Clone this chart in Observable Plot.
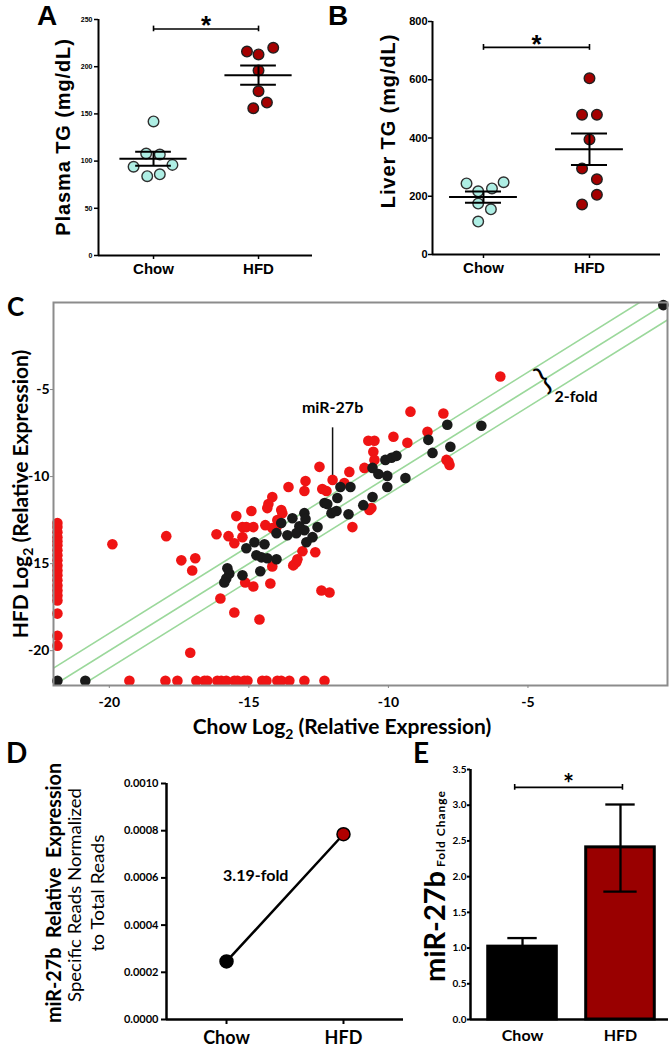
<!DOCTYPE html>
<html>
<head>
<meta charset="utf-8">
<script src="https://cdn.jsdelivr.net/npm/d3@7"></script>
<script src="https://cdn.jsdelivr.net/npm/@observablehq/plot@0.6"></script>
<style>
html,body{margin:0;padding:0;background:#fff;}
#fig{position:relative;width:671px;height:1050px;overflow:hidden;background:#fff;}
#fig > svg{position:absolute;}
</style>
</head>
<body>
<div id="fig"></div>
<script>
// ================= DATA =================
const groups = ["Chow", "HFD"];

// A: plasma TG (mg/dL), one value per animal
const plasmaChow = [142, 108, 107, 94, 96, 84, 86];
const plasmaHFD  = [216, 213, 220, 196, 174, 162, 156];
const plasmaChowSpread = [0, -0.07, 0.06, -0.19, 0.18, -0.06, 0.06];
const plasmaHFDSpread  = [-0.11, 0, 0.14, 0, 0, 0.08, -0.05];
const plasmaTicks = [0, 50, 100, 150, 200, 250];
const plasmaSig = 240;

// B: liver TG (mg/dL)
const liverChow = [244, 248, 217, 227, 175, 155, 113];
const liverHFD  = [605, 480, 480, 395, 295, 258, 205, 172];
const liverChowSpread = [-0.16, 0.19, -0.05, 0.08, -0.05, 0.07, -0.05];
const liverHFDSpread  = [0, -0.07, 0.07, 0, -0.07, 0.07, 0.07, -0.07];
const liverTicks = [0, 200, 400, 600, 800];
const liverSig = 711;

// C: log2 relative expression, [Chow, HFD]
const changedMiRs = [
  [-5.99,-4.25],[-9.21,-6.27],[-8.03,-6.38],[-8.60,-7.42],[-9.32,-8.06],[-9.82,-7.71],
  [-10.72,-7.94],[-10.50,-7.94],[-10.54,-8.58],[-10.50,-9.04],[-7.92,-9.04],[-7.81,-9.33],
  [-7.85,-9.15],[-10.86,-9.50],[-11.40,-9.73],[-12.47,-9.44],[-12.00,-10.19],[-12.97,-10.25],
  [-13.01,-10.83],[-12.37,-10.71],[-12.22,-10.83],[-11.58,-10.37],[-13.58,-10.60],[-14.16,-11.17],
  [-14.30,-11.58],[-14.34,-11.81],[-14.91,-11.98],[-13.84,-11.92],[-13.80,-12.10],[-15.45,-12.27],
  [-14.41,-12.79],[-15.23,-12.90],[-15.09,-12.90],[-14.84,-12.90],[-13.98,-12.50],[-14.01,-12.90],
  [-14.16,-12.96],[-16.16,-13.31],[-15.73,-13.42],[-17.96,-13.42],[-15.23,-13.48],[-10.68,-11.92],
  [-10.61,-11.81],[-11.29,-12.90],[-19.89,-13.89],[-15.52,-13.83],[-17.42,-14.81],[-16.92,-14.69],
  [-17.03,-15.39],[-14.16,-15.16],[-15.13,-16.08],[-14.84,-16.31],[-14.23,-16.14],[-16.02,-17.00],
  [-15.52,-17.81],[-14.62,-18.21],[-17.10,-20.12],[-13.08,-14.29],[-12.62,-14.35],[-13.30,-14.92],
  [-13.41,-15.10],[-13.26,-14.75],[-12.40,-16.54],[-12.11,-16.66]
];
const floorChow = -21.86;
const floorHFD = -21.73;
// detected only in HFD (Chow at floor): HFD values
const onlyHFD = [-12.67,-12.90,-13.19,-13.48,-13.71,-13.94,-14.23,-14.52,-14.81,-15.10,
  -15.39,-15.67,-15.96,-16.25,-16.54,-16.83,-17.12,-17.87,-19.14,-19.71];
// detected only in Chow (HFD at floor): Chow values
const onlyChow = [-19.28,-17.99,-17.56,-16.88,-16.59,-16.49,-16.13,-15.99,-15.81,-15.52,
  -15.41,-15.16,-15.05,-14.52,-14.37,-13.98,-13.84,-13.55,-13.01,-12.29];
const unchangedMiRs = [
  [-0.15,-0.15],[-6.67,-7.08],[-7.89,-7.02],[-8.57,-7.89],[-7.78,-8.29],[-8.42,-8.64],
  [-10.11,-9.04],[-9.89,-8.92],[-9.71,-8.81],[-10.57,-9.50],[-10.36,-9.85],[-10.04,-9.96],
  [-9.39,-10.08],[-10.04,-10.60],[-11.72,-10.60],[-11.36,-10.60],[-11.83,-11.23],[-12.29,-11.52],
  [-12.19,-11.58],[-12.04,-12.10],[-11.86,-11.98],[-11.43,-12.16],[-10.90,-11.64],[-10.57,-11.17],
  [-13.01,-12.10],[-12.97,-12.44],[-12.54,-12.90],[-13.44,-12.39],[-13.19,-12.85],[-13.62,-13.37],
  [-14.01,-13.25],[-12.72,-13.48],[-13.30,-13.25],[-13.01,-13.08],[-12.94,-13.77],[-13.84,-12.67],
  [-14.80,-13.77],[-14.44,-13.89],[-15.09,-14.12],[-14.73,-14.52],[-14.55,-14.64],[-14.34,-14.69],
  [-14.01,-14.75],[-14.59,-15.44],[-15.23,-15.67],[-15.77,-15.27],[-15.70,-15.56],[-15.81,-15.85],
  [-15.88,-16.08],[-21.86,-21.73],[-20.86,-21.73]
];
const foldLineOffsets = [1, 0, -1];       // log2: ±1 = 2-fold
const cDomain = [-22, 0];
const cTicks = [-20, -15, -10, -5];
const mirAnnot = [{chow: -12.0, hfd: -6.04, top: -7.2, bottom: -9.93, text: "miR-27b"}];
const foldAnnot = [{chow: -4.05, hfd: -5.4, text: "2-fold", braceChow: -4.45, braceHFD: -4.45}];

// D: specific reads normalized to total reads
const readsNorm = [0.000246, 0.000785];
const readsTicks = [0, 0.0002, 0.0004, 0.0006, 0.0008, 0.0010];
const readsLabelPos = [{x: 1.25, y: 0.00061}];

// E: qPCR fold change (mean, error bar ends)
const foldMean = [1.02, 2.41];
const foldErrHigh = [1.14, 3.01];
const foldErrLow = [1.02, 1.79];
const foldTicks = [0, 0.5, 1.0, 1.5, 2.0, 2.5, 3.0, 3.5];
const foldSig = 3.25;

// ================= DRAWING =================
const fig = document.getElementById("fig");
function place(svg, left, top) {
  svg.style.left = left + "px";
  svg.style.top = top + "px";
  fig.appendChild(svg);
}
const ARIAL = "'Liberation Sans', Arial, sans-serif";
const LATO = "Lato, 'Open Sans', sans-serif";

function dotPanel(o) {
  const pts = [
    ...o.chow.map((v, i) => ({g: 0, x: 1 + o.chowSpread[i], v})),
    ...o.hfd.map((v, i) => ({g: 1, x: 2 + o.hfdSpread[i], v}))
  ];
  const stats = [o.chow, o.hfd].map((a, i) => {
    const m = d3.mean(a), s = d3.deviation(a) / Math.sqrt(a.length);
    return {x: i + 1, m, lo: m - s, hi: m + s};
  });
  return Plot.plot({
    width: o.width, height: o.height,
    marginLeft: o.ml, marginRight: o.mr, marginTop: o.mt, marginBottom: o.mb,
    style: {background: "transparent", fontFamily: ARIAL, overflow: "visible"},
    x: {type: "linear", domain: o.xDomain},
    y: {type: "linear", domain: [o.ticks[0], o.ticks[o.ticks.length - 1]]},
    marks: [
      Plot.axisY({ticks: o.ticks, tickSize: 4, tickPadding: o.tickPad, fontSize: o.tickFont, fontWeight: "bold", label: null, strokeWidth: 1.5}),
      Plot.axisX({ticks: [1, 2], tickFormat: d => groups[d - 1], tickSize: 4, tickPadding: 4, fontSize: 15, fontWeight: "bold", label: null, strokeWidth: 1.5}),
      Plot.ruleY([o.ticks[0]], {strokeWidth: 2}),
      Plot.ruleX([o.xDomain[0]], {strokeWidth: 2}),
      Plot.dot(pts.filter(d => d.g === 0), {x: "x", y: "v", r: 5.3, fill: "#aeeee4", stroke: "#303030", strokeWidth: 1.4}),
      Plot.dot(pts.filter(d => d.g === 1), {x: "x", y: "v", r: 5.3, fill: "#a40000", stroke: "#202020", strokeWidth: 1.4}),
      Plot.ruleY(stats, {y: "m", x1: d => d.x - 0.32, x2: d => d.x + 0.32, strokeWidth: 2}),
      Plot.ruleX(stats, {x: "x", y1: "lo", y2: "hi", strokeWidth: 2}),
      Plot.ruleY(stats, {y: "hi", x1: d => d.x - 0.17, x2: d => d.x + 0.17, strokeWidth: 2}),
      Plot.ruleY(stats, {y: "lo", x1: d => d.x - 0.17, x2: d => d.x + 0.17, strokeWidth: 2}),
      Plot.ruleY([o.sig], {x1: () => 1, x2: () => 2, strokeWidth: 1.6}),
      Plot.ruleX([1, 2], {y1: () => o.sig - o.cap, y2: () => o.sig + o.cap, strokeWidth: 1.6}),
      Plot.text([o.sig], {x: () => 1.5, y: d => d, text: () => "*", fontSize: 26, fontWeight: "bold", dy: -3})
    ]
  });
}

// ---- A ----
place(dotPanel({
  chow: plasmaChow, hfd: plasmaHFD, chowSpread: plasmaChowSpread, hfdSpread: plasmaHFDSpread,
  ticks: plasmaTicks, sig: plasmaSig, cap: 3,
  width: 335, height: 280, ml: 98, mr: 23, mt: 19, mb: 25,
  xDomain: [0.476, 2.514], tickFont: 7, tickPad: 2
}), 0, 0);

// ---- B ----
place(dotPanel({
  chow: liverChow, hfd: liverHFD, chowSpread: liverChowSpread, hfdSpread: liverHFDSpread,
  ticks: liverTicks, sig: liverSig, cap: 10,
  width: 336, height: 280, ml: 97, mr: 11, mt: 21, mb: 26,
  xDomain: [0.519, 2.67], tickFont: 11, tickPad: 1
}), 335, 0);

// ---- C ----
const redPts = changedMiRs.map(([c, h]) => ({c, h}))
  .concat(onlyHFD.map(h => ({c: floorChow, h})))
  .concat(onlyChow.map(c => ({c, h: floorHFD})));
const blackPts = unchangedMiRs.map(([c, h]) => ({c, h}));
place(Plot.plot({
  width: 671, height: 470, marginLeft: 53, marginRight: 4, marginTop: 32, marginBottom: 55,
  style: {background: "transparent", fontFamily: LATO, overflow: "visible"},
  x: {type: "linear", domain: cDomain},
  y: {type: "linear", domain: cDomain},
  marks: [
    Plot.link(foldLineOffsets, {x1: () => cDomain[0], y1: d => cDomain[0] + d, x2: () => cDomain[1], y2: d => cDomain[1] + d,
      stroke: "#9bd89b", strokeWidth: 1.6, clip: true}),
    Plot.dot(redPts, {x: "c", y: "h", r: 5.3, fill: "#ef1414"}),
    Plot.dot(blackPts, {x: "c", y: "h", r: 5.3, fill: "#1a1a1a"}),
    Plot.frame({stroke: "#8c8c8c", strokeWidth: 2}),
    Plot.axisX({ticks: cTicks, tickFormat: d => String(d), tickSize: 3, tickPadding: 9, fontSize: 14, fontWeight: "bold", stroke: "#888", label: null}),
    Plot.axisY({ticks: cTicks, tickFormat: d => String(d), tickSize: 3, tickPadding: 1, fontSize: 14, fontWeight: "bold", stroke: "#888", label: null}),
    Plot.ruleX(mirAnnot, {x: "chow", y1: "top", y2: "bottom", stroke: "#111", strokeWidth: 1.5}),
    Plot.text(mirAnnot, {x: "chow", y: "hfd", text: "text", fontSize: 16, fontWeight: "bold"}),
    Plot.text(foldAnnot, {x: "chow", y: "hfd", text: "text", fontSize: 16, fontWeight: "bold", textAnchor: "start"}),
    Plot.text(foldAnnot, {x: "braceChow", y: "braceHFD", text: () => "}", fontSize: 32, fontWeight: "normal", rotate: -32})
  ]
}), 0, 270);

// ---- D ----
const dPts = readsNorm.map((v, i) => ({x: i + 1, v, g: groups[i]}));
place(Plot.plot({
  width: 410, height: 310, marginLeft: 166, marginRight: 7, marginTop: 43, marginBottom: 31,
  style: {background: "transparent", fontFamily: LATO, overflow: "visible"},
  x: {type: "linear", domain: [0.487, 2.513]},
  y: {type: "linear", domain: [readsTicks[0], readsTicks[readsTicks.length - 1]]},
  marks: [
    Plot.axisY({ticks: readsTicks, tickFormat: d3.format(".4f"), tickSize: 5, tickPadding: 3, fontSize: 11, fontWeight: "bold", strokeWidth: 2, label: null}),
    Plot.axisX({ticks: [1, 2], tickFormat: d => groups[d - 1], tickSize: 5, tickPadding: 7, fontSize: 18, fontWeight: "bold", strokeWidth: 2, label: null}),
    Plot.ruleY([readsTicks[0]], {strokeWidth: 2.5}),
    Plot.ruleX([0.487], {strokeWidth: 2.5}),
    Plot.line(dPts, {x: "x", y: "v", stroke: "#000", strokeWidth: 2.5}),
    Plot.dot(dPts.filter(d => d.g === "Chow"), {x: "x", y: "v", r: 6.5, fill: "#000", stroke: "#000"}),
    Plot.dot(dPts.filter(d => d.g === "HFD"), {x: "x", y: "v", r: 6.5, fill: "#b00000", stroke: "#000", strokeWidth: 1.5}),
    Plot.text(readsLabelPos, {x: "x", y: "y", text: () => (readsNorm[1] / readsNorm[0]).toFixed(2) + "-fold", fontSize: 16, fontWeight: "bold"})
  ]
}), 0, 740);

// ---- E ----
const eData = foldMean.map((v, i) => ({x: i + 1, v, hi: foldErrHigh[i], lo: foldErrLow[i], g: groups[i]}));
place(Plot.plot({
  width: 336, height: 310, marginLeft: 135, marginRight: 3, marginTop: 29, marginBottom: 31,
  style: {background: "transparent", fontFamily: LATO, overflow: "visible"},
  x: {type: "linear", domain: [0.469, 2.49]},
  y: {type: "linear", domain: [foldTicks[0], foldTicks[foldTicks.length - 1]]},
  marks: [
    Plot.rectY(eData, {x1: d => d.x - 0.35, x2: d => d.x + 0.35, y1: () => 0, y2: "v",
      fill: d => d.g === "Chow" ? "#000000" : "#990000", stroke: "#000", strokeWidth: 3}),
    Plot.ruleX(eData, {x: "x", y1: "lo", y2: "hi", strokeWidth: 2.3}),
    Plot.ruleY(eData, {y: "hi", x1: d => d.x - 0.15, x2: d => d.x + 0.15, strokeWidth: 2.3}),
    Plot.ruleY(eData.filter(d => d.lo < d.v), {y: "lo", x1: d => d.x - 0.17, x2: d => d.x + 0.17, strokeWidth: 2.3}),
    Plot.axisY({ticks: foldTicks, tickFormat: d3.format(".1f"), tickSize: 3, tickPadding: 1, fontSize: 10, fontWeight: "bold", strokeWidth: 2, label: null}),
    Plot.axisX({ticks: [1, 2], tickFormat: d => groups[d - 1], tickSize: 0, tickPadding: 10, fontSize: 16, fontWeight: "bold", label: null}),
    Plot.ruleY([foldTicks[0]], {strokeWidth: 2.5}),
    Plot.ruleX([0.469], {strokeWidth: 2.5}),
    Plot.ruleY([foldSig], {x1: () => 0.92, x2: () => 2.02, strokeWidth: 1.6}),
    Plot.ruleX([0.92, 2.02], {y1: () => foldSig - 0.04, y2: () => foldSig + 0.04, strokeWidth: 1.6}),
    Plot.text([foldSig], {x: () => 1.47, y: d => d, text: () => "*", fontSize: 26, fontWeight: "bold", dy: -3})
  ]
}), 335, 740);

// ---- overlay: panel letters and multi-style axis titles ----
const ov = d3.create("svg").attr("width", 671).attr("height", 1050)
  .style("left", "0px").style("top", "0px").style("pointer-events", "none");
function txt(x, y, s, o = {}) {
  const t = ov.append("text")
    .attr("transform", `translate(${x},${y})` + (o.rotate ? ` rotate(${o.rotate})` : ""))
    .attr("font-family", o.family || LATO)
    .attr("font-size", o.size || 16)
    .attr("font-weight", o.weight || "bold")
    .attr("text-anchor", o.anchor || "start")
    .attr("fill", "#000");
  if (o.length) t.attr("textLength", o.length).attr("lengthAdjust", "spacingAndGlyphs");
  if (o.spacing) t.attr("letter-spacing", o.spacing);
  t.text(s);
  return t;
}
function sub(x, y, pre, post, o) {
  const t = txt(x, y, "", o);
  t.append("tspan").text(pre);
  t.append("tspan").attr("font-size", 14).attr("dy", 5).text("2");
  t.append("tspan").attr("dy", -5).text(post);
}
txt(37, 25, "A", {family: ARIAL, size: 28});
txt(328, 25, "B", {family: ARIAL, size: 28});
txt(7, 316, "C", {size: 26});
txt(6, 763, "D", {size: 28});
txt(413, 763, "E", {size: 28});

txt(70, 137, "Plasma TG (mg/dL)", {family: ARIAL, size: 20, anchor: "middle", rotate: -90, spacing: 0.9});
txt(395, 121, "Liver TG (mg/dL)", {family: ARIAL, size: 20, anchor: "middle", rotate: -90, spacing: 0.9});

sub(342, 734, "Chow Log", " (Relative Expression)", {size: 21, anchor: "middle"});
sub(28, 494, "HFD Log", " (Relative Expression)", {size: 21, anchor: "middle", rotate: -90});

txt(61, 893, "miR-27b\u00a0 Relative\u00a0 Expression", {size: 20, anchor: "middle", rotate: -90, length: 260});
txt(81, 895, "Specific Reads Normalized", {size: 17, weight: "normal", anchor: "middle", rotate: -90, length: 214});
txt(104, 893, "to Total Reads", {size: 17, weight: "normal", anchor: "middle", rotate: -90, length: 117});

const eLab = txt(445, 886, "", {size: 29, anchor: "middle", rotate: -90});
eLab.append("tspan").text("miR-27b");
eLab.append("tspan").attr("font-size", 12).attr("letter-spacing", 1).text(" Fold Change");

fig.appendChild(ov.node());
</script>
</body>
</html>
